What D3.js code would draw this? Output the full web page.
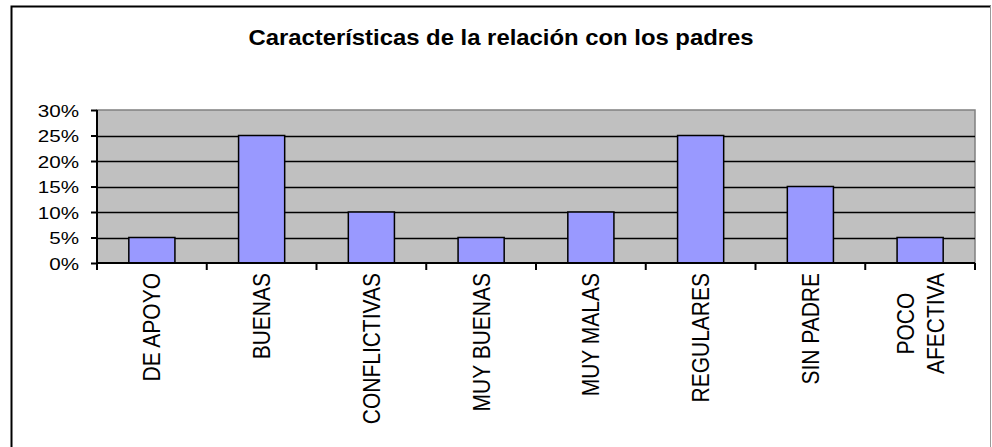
<!DOCTYPE html>
<html>
<head>
<meta charset="utf-8">
<script src="https://cdn.jsdelivr.net/npm/d3@7"></script>
<style>
  body { margin: 0; background: #fff; }
  text { font-family: Arial, "Liberation Sans", sans-serif; fill: #000; }
</style>
</head>
<body>
<div id="chart"></div>
<script>
// chart data
var categories = ['DE APOYO', 'BUENAS', 'CONFLICTIVAS', 'MUY BUENAS', 'MUY MALAS', 'REGULARES', 'SIN PADRE', 'POCO\nAFECTIVA'];
var values = [0.05, 0.25, 0.10, 0.05, 0.10, 0.25, 0.15, 0.05];
var yTicks = [0, 0.05, 0.10, 0.15, 0.20, 0.25, 0.30];
var title = 'Características de la relación con los padres';

var svgWidth = 992;
var svgHeight = 447;

// plot area
var plot = { left: 97, right: 975, top: 110, bottom: 263 };

var svg = d3.select('#chart')
    .append('svg')
    .attr('width', svgWidth)
    .attr('height', svgHeight);

// outer frame
svg.append('path')
    .attr('d', 'M11.5,447 V6.5 H991')
    .attr('fill', 'none')
    .attr('stroke', '#000')
    .attr('stroke-width', 2);
svg.append('line')
    .attr('x1', 990.5).attr('x2', 990.5)
    .attr('y1', 6).attr('y2', 447)
    .attr('stroke', '#999')
    .attr('stroke-width', 1);

// title
svg.append('text')
    .attr('transform', 'translate(501, 45) scale(1.11, 1)')
    .attr('text-anchor', 'middle')
    .attr('font-size', '21.5px')
    .attr('font-weight', 'bold')
    .text(title);

// scales
var x = d3.scaleBand()
    .domain(categories)
    .range([plot.left, plot.right])
    .paddingInner(0.58)
    .paddingOuter(0.29);

var y = d3.scaleLinear()
    .domain([0, 0.30])
    .range([plot.bottom, plot.top]);

// plot background
svg.append('rect')
    .attr('x', plot.left)
    .attr('y', plot.top)
    .attr('width', plot.right - plot.left)
    .attr('height', plot.bottom - plot.top)
    .attr('fill', '#c0c0c0')
    .attr('stroke', '#808080')
    .attr('stroke-width', 1.5);

// gridlines
svg.append('g')
    .selectAll('line')
    .data(yTicks.filter(d => d > 0 && d < 0.30))
    .enter()
    .append('line')
    .attr('x1', plot.left)
    .attr('x2', plot.right)
    .attr('y1', d => Math.round(y(d)) + 0.5)
    .attr('y2', d => Math.round(y(d)) + 0.5)
    .attr('stroke', '#000')
    .attr('stroke-width', 1.5);

// bars
svg.append('g')
    .selectAll('rect')
    .data(values)
    .enter()
    .append('rect')
    .attr('x', (d, i) => x(categories[i]))
    .attr('y', d => y(d))
    .attr('width', x.bandwidth())
    .attr('height', d => plot.bottom - y(d))
    .attr('fill', '#9999ff')
    .attr('stroke', '#000')
    .attr('stroke-width', 1.5);

// y axis
var leftAxis = d3.axisLeft(y)
    .tickValues(yTicks)
    .tickSize(6)
    .tickFormat(d3.format('.0%'));

var yAxis = svg.append('g')
    .attr('transform', `translate(${plot.left}, 0)`)
    .call(leftAxis);
yAxis.select('.domain').attr('stroke', '#000').attr('stroke-width', 2).attr('d', `M0,${plot.top}V${plot.bottom}`);
yAxis.selectAll('.tick line').attr('stroke-width', 2);
yAxis.selectAll('.tick text')
    .attr('x', 0)
    .attr('dy', null)
    .attr('font-family', null)
    .attr('font-size', null)
    .style('font-size', '16.5px')
    .attr('transform', 'translate(-18, 6) scale(1.25, 1)');

// x axis line and ticks at category boundaries
var step = x.step();
var boundaries = d3.range(categories.length + 1).map(i => plot.left + i * step);
svg.append('line')
    .attr('x1', plot.left - 1).attr('x2', plot.right)
    .attr('y1', plot.bottom).attr('y2', plot.bottom)
    .attr('stroke', '#000').attr('stroke-width', 2);
svg.append('g')
    .selectAll('line')
    .data(boundaries)
    .enter()
    .append('line')
    .attr('x1', d => d).attr('x2', d => d)
    .attr('y1', plot.bottom).attr('y2', plot.bottom + 7)
    .attr('stroke', '#000').attr('stroke-width', 2);

// x labels, rotated
var labelTop = 273;
var fontSize = 21;
var stretch = 1.13;
var lineGap = 30;

categories.forEach(function(cat) {
    var lines = cat.split('\n');
    var cx = x(cat) + x.bandwidth() / 2;
    var g = svg.append('g');
    var texts = lines.map(function(line, i) {
        var offset = (i - (lines.length - 1) / 2) * lineGap;
        return g.append('text')
            .attr('font-size', fontSize + 'px')
            .attr('text-anchor', 'middle')
            .attr('y', offset / stretch + fontSize * 0.36)
            .text(line);
    });
    var maxLen = d3.max(texts, t => t.node().getComputedTextLength());
    g.attr('transform', `translate(${cx}, ${labelTop + maxLen / 2}) rotate(-90) scale(1, ${stretch})`);
});
</script>
</body>
</html>
